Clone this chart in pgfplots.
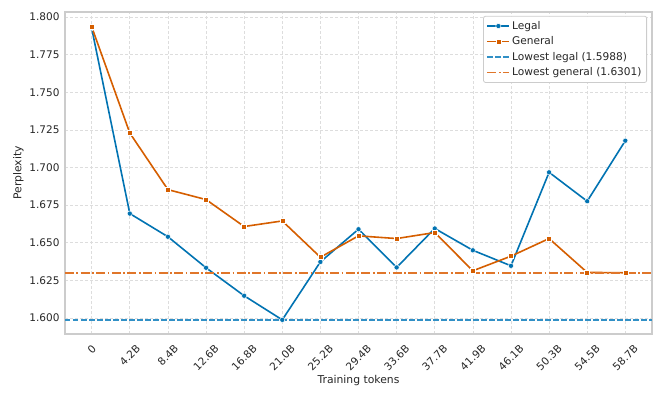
\documentclass[border=0pt]{standalone}
\usepackage{pgfplots}
\pgfplotsset{compat=1.18}
\usepackage{fontspec}
\setmainfont{DejaVu Sans}
\definecolor{cblue}{HTML}{0173B2}
\definecolor{corange}{HTML}{D55E00}
\definecolor{lblue}{HTML}{3190C6}
\definecolor{lorange}{HTML}{E0762A}
\definecolor{gridc}{HTML}{DDDDDD}
\definecolor{framec}{HTML}{CCCCCC}
\definecolor{txt}{HTML}{262626}
\newcommand{\rl}[1]{\rotatebox{45}{#1}}
\begin{document}
\begin{tikzpicture}
\path (0,0) rectangle (664pt,399pt);
\begin{axis}[
  at={(65pt,65pt)}, anchor=south west,
  scale only axis, width=587pt, height=322pt,
  xmin=-0.7, xmax=14.7, ymin=1.5894, ymax=1.8033,
  xtick={0,...,14},
  xticklabels={\rl{0},\rl{4.2B},\rl{8.4B},\rl{12.6B},\rl{16.8B},\rl{21.0B},\rl{25.2B},\rl{29.4B},\rl{33.6B},\rl{37.7B},\rl{41.9B},\rl{46.1B},\rl{50.3B},\rl{54.5B},\rl{58.7B}},
  x tick label style={anchor=north, inner sep=0pt, yshift=-10pt},
  y tick label style={xshift=-2pt},
  ytick={1.600,1.625,...,1.800},
  yticklabel style={/pgf/number format/.cd, fixed, fixed zerofill, precision=3},
  /pgf/number format/assume math mode=true,
  font=\fontsize{10.5}{12}\selectfont,
  tick label style={font=\fontsize{10.5}{12}\selectfont, txt},
  major tick length=0pt,
  grid=major,
  major grid style={gridc, densely dashed, line width=0.6pt},
  axis line style={framec, line width=1.3pt},
  xlabel={Training tokens}, ylabel={Perplexity},
  label style={font=\fontsize{10.8}{12}\selectfont, txt},
  xlabel style={at={(axis description cs:0.5,-0.143)}, anchor=center},
  ylabel style={yshift=-1pt},
  legend style={at={(0.9915,0.988)}, anchor=north east, draw=framec, line width=0.8pt, rounded corners=2pt,
    font=\fontsize{10.6}{12}\selectfont, text=txt, row sep=2pt, inner sep=3pt},
  legend image code/.code={\draw[mark repeat=2,mark phase=2,#1] plot coordinates {(0pt,0pt)(11pt,0pt)(22pt,0pt)};},
  legend cell align=left,
]
\addplot[cblue, line width=1.6pt, mark=*, mark size=2.6pt, mark options={draw=white, line width=0.5pt, fill=cblue}]
coordinates {(0,1.7925)(1,1.6694)(2,1.6540)(3,1.6334)(4,1.6148)(5,1.5988)(6,1.6373)(7,1.6590)(8,1.6336)(9,1.6595)(10,1.6450)(11,1.6347)(12,1.6968)(13,1.6776)(14,1.7178)};
\addlegendentry{Legal}
\addplot[corange, line width=1.6pt, mark=square*, mark size=2.5pt, mark options={draw=white, line width=0.5pt, fill=corange}]
coordinates {(0,1.7935)(1,1.7229)(2,1.6853)(3,1.6787)(4,1.6608)(5,1.6645)(6,1.6404)(7,1.6546)(8,1.6528)(9,1.6568)(10,1.6314)(11,1.6411)(12,1.6528)(13,1.6303)(14,1.6301)};
\addlegendentry{General}
\addplot[lblue, line width=1.6pt, dash pattern=on 5.5pt off 2.5pt] coordinates {(-0.7,1.5988)(14.7,1.5988)};
\addlegendentry{Lowest legal (1.5988)}
\addplot[lorange, line width=1.6pt, dash pattern=on 9pt off 2.5pt on 1.6pt off 2.5pt] coordinates {(-0.7,1.6301)(14.7,1.6301)};
\addlegendentry{Lowest general (1.6301)}
\end{axis}
\end{tikzpicture}
\end{document}
